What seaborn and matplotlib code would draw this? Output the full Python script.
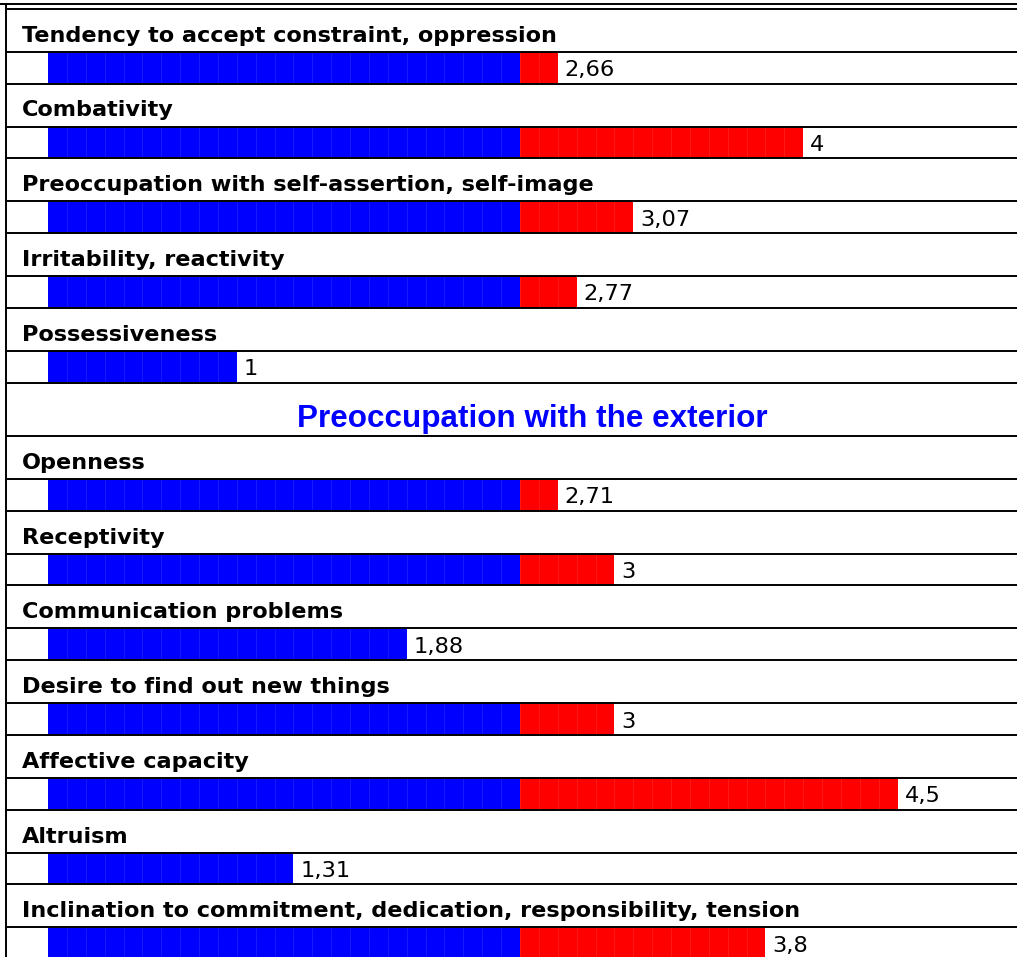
import pandas as pd
import numpy as np
import seaborn as sns
import matplotlib.pyplot as plt

# data
labels_1 = ['Tendency to accept constraint, oppression',
            'Combativity',
            'Preoccupation with self-assertion, self-image',
            'Irritability, reactivity',
            'Possessiveness']
values_1 = [2.66, 4, 3.07, 2.77, 1]

header_2 = 'Preoccupation with the exterior'
labels_2 = ['Openness',
            'Receptivity',
            'Communication problems',
            'Desire to find out new things',
            'Affective capacity',
            'Altruism',
            'Inclination to commitment, dedication, responsibility, tension']
values_2 = [2.71, 3, 1.88, 3, 4.5, 1.31, 3.8]

midpoint = 2.5  # blue up to here, red beyond

# layout (pixels)
W, H = 1017, 957
X0, PX = 48, 188.8          # pixel of value 0, pixels per unit
TOP, LABEL_H, BAR_H, HEADER_H = 8.7, 43, 31.8, 53


def v(p):
    # pixel x -> value units
    return (p - X0) / PX


rows = []
y = TOP
for lab, val in zip(labels_1, values_1):
    rows.append({'label': lab, 'value': val, 'bar_top': y + LABEL_H})
    y += LABEL_H + BAR_H
header_top = y
y += HEADER_H
for lab, val in zip(labels_2, values_2):
    rows.append({'label': lab, 'value': val, 'bar_top': y + LABEL_H})
    y += LABEL_H + BAR_H

df = pd.DataFrame(rows)
df['bar_mid'] = df['bar_top'] + BAR_H / 2
df['cells'] = (df['value'] * 10).round().astype(int)   # bars are made of 0.1 cells
df['bar_len'] = df['cells'] / 10
df['blue_len'] = df['bar_len'].clip(upper=midpoint)

sns.set_style('white')
plt.rcParams['font.family'] = ['DejaVu Sans']
plt.rcParams['text.color'] = 'black'

fig = plt.figure(figsize=(W / 100, H / 100), dpi=100)
ax = fig.add_axes([0, 0, 1, 1])

pitch = df['bar_mid'].diff().min()
bw = (BAR_H - 0.5) / pitch
common = dict(orient='h', native_scale=True, width=bw, errorbar=None,
              saturation=1, linewidth=0, ax=ax)
sns.barplot(data=df, x='bar_len', y='bar_mid', color='#ff0000', **common)
sns.barplot(data=df, x='blue_len', y='bar_mid', color='#0000ff', **common)

# faint cell separators inside the bars
for _, r in df.iterrows():
    xs = np.arange(1, r['cells']) / 10
    ax.vlines(xs, r['bar_top'] + 0.5, r['bar_top'] + BAR_H - 0.5,
              color='white', alpha=0.1, lw=0.7, zorder=3)

# table rules
lw = 1.4
line_ys = [TOP] + list(df['bar_top']) + list(df['bar_top'] + BAR_H) + [header_top + HEADER_H]
ax.hlines(line_ys, v(6.3), v(W), color='black', lw=lw, zorder=5)
ax.hlines(4.4, v(0), v(W), color='black', lw=lw, zorder=5)
ax.vlines(v(6.3), 4.4, H, color='black', lw=lw, zorder=5)

# texts
for _, r in df.iterrows():
    ax.text(v(22.3), r['bar_top'] - 10, r['label'], fontsize=16.1,
            fontweight='bold', va='baseline', ha='left')
    txt = f"{r['value']:g}".replace('.', ',')
    ax.text(r['bar_len'] + 7 / PX, r['bar_top'] + BAR_H - 7.4, txt,
            fontsize=16.2, va='baseline', ha='left')

ax.text(v(532.5), header_top + HEADER_H - 8.2, header_2, color='#0000ff',
        fontsize=22.6, fontweight='bold', ha='center', va='baseline',
        family=['Liberation Sans', 'DejaVu Sans'])

ax.set_xlim(v(0), v(W))
ax.set_ylim(H, 0)
ax.set_axis_off()

plt.savefig('out.png', dpi=100)
plt.close()
